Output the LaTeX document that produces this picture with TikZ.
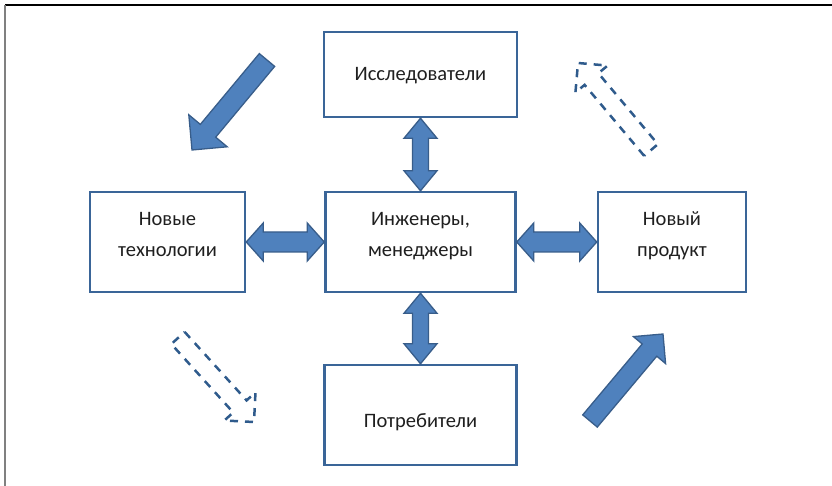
\documentclass[tikz,border=0pt]{standalone}
\usepackage{fontspec}
\setmainfont{Carlito}
\usetikzlibrary{calc}

\definecolor{boxblue}{HTML}{3A6598}
\definecolor{arrfill}{HTML}{4F81BD}
\definecolor{arrline}{HTML}{385D8A}
\definecolor{dashblue}{HTML}{2F5B8C}

% double block arrow: ends #1 #2, half body #3, half head #4, head length #5
\newcommand{\dblarrow}[5]{%
  \coordinate (ha) at ($(#1)!#5!(#2)$);
  \coordinate (hb) at ($(#2)!#5!(#1)$);
  \draw[blockarrow] (#1) -- ($(ha)!#4!90:(#2)$) -- ($(ha)!#3!90:(#2)$)
    -- ($(hb)!#3!-90:(#1)$) -- ($(hb)!#4!-90:(#1)$) -- (#2)
    -- ($(hb)!#4!90:(#1)$) -- ($(hb)!#3!90:(#1)$)
    -- ($(ha)!#3!-90:(#2)$) -- ($(ha)!#4!-90:(#2)$) -- cycle;}

% single block arrow: style #1, tail #2, tip #3, half body #4, half head #5, head length #6
\newcommand{\onearrow}[6]{%
  \coordinate (hh) at ($(#3)!#6!(#2)$);
  \draw[#1] ($(#2)!#4!90:(#3)$) -- ($(hh)!#4!90:(#3)$) -- ($(hh)!#5!90:(#3)$)
    -- (#3) -- ($(hh)!#5!-90:(#3)$) -- ($(hh)!#4!-90:(#3)$)
    -- ($(#2)!#4!-90:(#3)$) -- cycle;}

\begin{document}
\begin{tikzpicture}[x=1pt, y=-1pt,
    box/.style={draw=boxblue, line width=2.5pt, fill=white, align=center,
      text=black!88, font=\fontsize{20.5}{32}\selectfont},
    twolines/.style={text height=46pt, text depth=16pt},
    blockarrow/.style={draw=arrline, fill=arrfill, line width=1.3pt, line join=miter},
    dasharrow/.style={draw=dashblue, line width=2.5pt, dash pattern=on 8pt off 7pt}]

        \useasboundingbox (0,0) rectangle (832,486);
        % frame of the page
        \draw[black, line width=2pt] (5,5) -- (832,5);
        \draw[gray, line width=2pt] (5,5) -- (5,486);

        % the boxes
        \node[box, minimum width=193pt, minimum height=85pt, text height=18pt, text depth=5pt] (res) at (420.5,74.5) {Исследователи};
        \node[box, twolines, minimum width=155pt, minimum height=100pt] (tech) at (167.5,242) {Новые\\технологии};
        \node[box, twolines, minimum width=190pt, minimum height=100pt] (eng) at (420.5,242) {Инженеры,\\менеджеры};
        \node[box, twolines, minimum width=148pt, minimum height=100pt] (prod) at (672,242) {Новый\\продукт};
        \node[box, minimum width=192pt, minimum height=100pt, text height=28pt, text depth=4pt] (cons) at (420.5,415) {Потребители};

        % double arrows between the boxes
        \dblarrow{res.south}{eng.north}{8pt}{16.5pt}{20pt}
        \dblarrow{eng.south}{cons.north}{8pt}{16.5pt}{20pt}
        \dblarrow{tech.east}{eng.west}{10pt}{19pt}{17pt}
        \dblarrow{eng.east}{prod.west}{10pt}{19pt}{17pt}

        % the four corner arrows
        \coordinate (tlTail) at (267,60);
        \coordinate (tlTip) at (192,150);
        \onearrow{blockarrow}{tlTail}{tlTip}{10pt}{25pt}{25pt}

        \coordinate (trTail) at (651,150);
        \coordinate (trTip) at (578,63);
        \onearrow{dasharrow}{trTail}{trTip}{9pt}{21pt}{21pt}

        \coordinate (blTail) at (178,338);
        \coordinate (blTip) at (254,422);
        \onearrow{dasharrow}{blTail}{blTip}{9pt}{21pt}{21pt}

        \coordinate (brTail) at (590,421);
        \coordinate (brTip) at (663,334);
        \onearrow{blockarrow}{brTail}{brTip}{9.5pt}{21pt}{21pt}

    \end{tikzpicture}
\end{document}
